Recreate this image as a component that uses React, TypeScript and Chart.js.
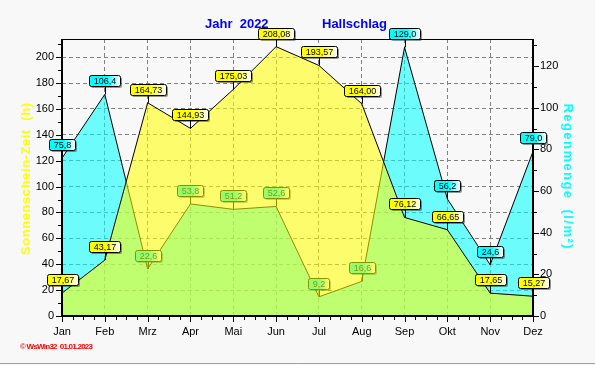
import { useEffect, useRef } from 'react';
import { Chart, registerables } from 'chart.js';

Chart.register(...registerables);

const months = ['Jan', 'Feb', 'Mrz', 'Apr', 'Mai', 'Jun', 'Jul', 'Aug', 'Sep', 'Okt', 'Nov', 'Dez'];
const sunHours = [17.67, 43.17, 164.73, 144.93, 175.03, 208.08, 193.57, 164.0, 76.12, 66.65, 17.65, 15.27];
const rainMm = [75.8, 106.4, 22.6, 53.8, 51.2, 52.6, 9.2, 16.6, 129.0, 56.2, 24.6, 79.0];
const sunTicks = [0, 20, 40, 60, 80, 100, 120, 140, 160, 180, 200];
const rainTicks = [0, 20, 40, 60, 80, 100, 120];
const sunMax = 214;
const rainMax = 133;
const titleYear = 'Jahr  2022';
const titlePlace = 'Hallschlag';
const sunAxisTitle = 'Sonnenschein-Zeit  (h)';
const rainAxisTitle = 'Regenmenge  (l/m²)';
const footerText = '© WsWin32  01.01.2023';

const SANS = 'Arial, "Liberation Sans", sans-serif';
const LABEL_FONT = '9px "Liberation Sans Narrow", "Arial Narrow", Arial, sans-serif';
const SUN_FILL = 'rgba(255,255,0,0.56)';
const RAIN_FILL = 'rgba(0,255,255,0.56)';

const fmt = (v: number, d: number) => v.toFixed(d).replace('.', ',');

function roundRectPath(ctx: CanvasRenderingContext2D, x: number, y: number, w: number, h: number, r: number) {
  ctx.beginPath();
  ctx.moveTo(x + r, y);
  ctx.lineTo(x + w - r, y);
  ctx.quadraticCurveTo(x + w, y, x + w, y + r);
  ctx.lineTo(x + w, y + h - r);
  ctx.quadraticCurveTo(x + w, y + h, x + w - r, y + h);
  ctx.lineTo(x + r, y + h);
  ctx.quadraticCurveTo(x, y + h, x, y + h - r);
  ctx.lineTo(x, y + r);
  ctx.quadraticCurveTo(x, y, x + r, y);
  ctx.closePath();
}

function drawValueLabel(ctx: CanvasRenderingContext2D, px: number, py: number, text: string, color: string) {
  ctx.save();
  ctx.font = LABEL_FONT;
  const tw = ctx.measureText(text).width;
  const w = Math.round(tw + 8);
  const h = 11;
  const bx = Math.round(px - w / 2);
  const by = Math.round(py - 8 - h);
  ctx.strokeStyle = '#000';
  ctx.lineWidth = 1;
  ctx.beginPath();
  ctx.moveTo(Math.round(px) + 0.5, by + h);
  ctx.lineTo(Math.round(px) + 0.5, py);
  ctx.stroke();
  ctx.fillStyle = 'rgba(0,0,0,0.4)';
  roundRectPath(ctx, bx + 2, by + 2, w, h, 2);
  ctx.fill();
  const g = ctx.createLinearGradient(bx, 0, bx + w, 0);
  g.addColorStop(0, color);
  g.addColorStop(0.55, color);
  g.addColorStop(1, '#ffffff');
  ctx.fillStyle = g;
  roundRectPath(ctx, bx + 0.5, by + 0.5, w, h, 2);
  ctx.fill();
  ctx.stroke();
  ctx.fillStyle = '#000';
  ctx.textAlign = 'center';
  ctx.textBaseline = 'middle';
  ctx.fillText(text, bx + w / 2 + 0.5, by + h / 2 + 1);
  ctx.restore();
}

function drawFitted(ctx: CanvasRenderingContext2D, text: string, font: string, cx: number, cy: number, length: number, angle: number, color: string) {
  ctx.save();
  ctx.font = font;
  const w0 = ctx.measureText(text).width;
  const n = Array.from(text).length;
  const sp = (length - w0) / (n - 1);
  (ctx as any).letterSpacing = `${sp}px`;
  ctx.translate(cx, cy);
  ctx.rotate(angle);
  ctx.fillStyle = color;
  ctx.textAlign = 'left';
  ctx.textBaseline = 'middle';
  ctx.fillText(text, -length / 2, 0);
  ctx.restore();
}

const decorPlugin = {
  id: 'decor',
  beforeDraw(chart: any) {
    const { ctx, width, height } = chart;
    ctx.save();
    ctx.fillStyle = '#f8f8f8';
    ctx.fillRect(0, 0, width, height);
    ctx.strokeStyle = '#a0a0a0';
    ctx.lineWidth = 1;
    ctx.beginPath();
    ctx.moveTo(0, height - 1.5);
    ctx.lineTo(width, height - 1.5);
    ctx.stroke();
    ctx.restore();
  },
  afterDatasetDraw(chart: any, args: any) {
    if (args.index !== 1) return;
    const ctx = chart.ctx;
    const sunMeta = chart.getDatasetMeta(0);
    const rainMeta = chart.getDatasetMeta(1);
    rainMeta.data.forEach((pt: any, i: number) => {
      if (pt.y >= sunMeta.data[i].y) {
        drawValueLabel(ctx, pt.x, pt.y, fmt(rainMm[i], 1), '#00ffff');
      }
    });
  },
  afterDatasetsDraw(chart: any) {
    const { ctx, chartArea, scales } = chart;
    const { left, right, top, bottom } = chartArea;
    ctx.save();
    ctx.strokeStyle = '#000';
    ctx.lineWidth = 2;
    ctx.beginPath();
    ctx.moveTo(left, top);
    ctx.lineTo(left, bottom + 1);
    ctx.moveTo(right, top);
    ctx.lineTo(right, bottom + 1);
    ctx.moveTo(left - 1, bottom);
    ctx.lineTo(right + 1, bottom);
    ctx.stroke();
    ctx.lineWidth = 1;
    ctx.beginPath();
    ctx.moveTo(left, top + 0.5);
    ctx.lineTo(right, top + 0.5);
    ctx.stroke();
    ctx.beginPath();
    for (let v = 0; v <= sunMax; v += 10) {
      const y = Math.round(scales.y.getPixelForValue(v)) + 0.5;
      const len = v % 20 === 0 ? 5 : 3;
      ctx.moveTo(left - len - 1, y);
      ctx.lineTo(left, y);
    }
    for (let v = 0; v <= rainMax; v += 10) {
      const y = Math.round(scales.y1.getPixelForValue(v)) + 0.5;
      const len = v % 20 === 0 ? 5 : 3;
      ctx.moveTo(right, y);
      ctx.lineTo(right + len + 1, y);
    }
    for (let i = 0; i < months.length; i++) {
      const x = Math.round(scales.x.getPixelForValue(i)) + 0.5;
      ctx.moveTo(x, bottom);
      ctx.lineTo(x, bottom + 6);
      if (i < months.length - 1) {
        for (let k = 1; k <= 3; k++) {
          const xm = Math.round(scales.x.getPixelForValue(i + k / 4)) + 0.5;
          ctx.moveTo(xm, bottom);
          ctx.lineTo(xm, bottom + 4);
        }
      }
    }
    ctx.stroke();
    ctx.restore();

    const sunMeta = chart.getDatasetMeta(0);
    const rainMeta = chart.getDatasetMeta(1);
    rainMeta.data.forEach((pt: any, i: number) => {
      if (pt.y < sunMeta.data[i].y) {
        drawValueLabel(ctx, pt.x, pt.y, fmt(rainMm[i], 1), '#00ffff');
      }
    });
    sunMeta.data.forEach((pt: any, i: number) => {
      drawValueLabel(ctx, pt.x, pt.y, fmt(sunHours[i], 2), '#ffff00');
    });
  },
  afterDraw(chart: any) {
    const ctx = chart.ctx;
    ctx.save();
    ctx.font = `bold 13px ${SANS}`;
    ctx.fillStyle = '#0000ff';
    ctx.textAlign = 'left';
    ctx.textBaseline = 'middle';
    ctx.fillText(titleYear, 205, 24);
    ctx.fillText(titlePlace, 322, 24);
    ctx.restore();

    drawFitted(ctx, sunAxisTitle, `bold 13px ${SANS}`, 26, 179, 152, -Math.PI / 2, '#ffff00');
    drawFitted(ctx, rainAxisTitle, `bold 13px ${SANS}`, 568, 176, 145, Math.PI / 2, '#00ffff');
    drawFitted(ctx, footerText, `bold 8px ${SANS}`, 20 + 73 / 2, 347, 73, 0, '#ff0000');
  },
};

export default function App() {
  const canvasRef = useRef<HTMLCanvasElement | null>(null);

  useEffect(() => {
    if (!canvasRef.current) return;
    const tickFont = { family: SANS, size: 11 };
    const chart = new Chart(canvasRef.current, {
      type: 'line',
      data: {
        labels: months,
        datasets: [
          {
            label: 'Sonnenschein-Zeit',
            data: sunHours,
            yAxisID: 'y',
            borderColor: '#000',
            borderWidth: 1,
            backgroundColor: SUN_FILL,
            fill: 'origin',
            pointRadius: 0,
            tension: 0,
          },
          {
            label: 'Regenmenge',
            data: rainMm,
            yAxisID: 'y1',
            borderColor: '#000',
            borderWidth: 1,
            backgroundColor: RAIN_FILL,
            fill: 'origin',
            pointRadius: 0,
            tension: 0,
          },
        ],
      },
      options: {
        responsive: false,
        animation: false,
        devicePixelRatio: 1,
        layout: { padding: { top: 39, left: 0, right: 0, bottom: 0 } },
        plugins: {
          legend: { display: false },
          tooltip: { enabled: false },
          title: { display: false },
        },
        scales: {
          x: {
            type: 'category',
            offset: false,
            grid: { color: '#808080', lineWidth: 1, drawTicks: false },
            border: { display: false, dash: [4, 3] },
            ticks: { font: tickFont, color: '#000', padding: 9, maxRotation: 0, autoSkip: false },
            afterFit: (s: any) => { s.height = 49; },
          },
          y: {
            type: 'linear',
            position: 'left',
            min: 0,
            max: sunMax,
            afterBuildTicks: (s: any) => { s.ticks = sunTicks.map((v) => ({ value: v })); },
            grid: { color: '#808080', lineWidth: 1, drawTicks: false },
            border: { display: false, dash: [4, 3] },
            ticks: { font: tickFont, color: '#000', padding: 8 },
            afterFit: (s: any) => { s.width = 62; },
          },
          y1: {
            type: 'linear',
            position: 'right',
            min: 0,
            max: rainMax,
            afterBuildTicks: (s: any) => { s.ticks = rainTicks.map((v) => ({ value: v })); },
            grid: { drawOnChartArea: false, drawTicks: false },
            border: { display: false },
            ticks: { font: tickFont, color: '#000', padding: 7 },
            afterFit: (s: any) => { s.width = 62; },
          },
        },
      },
      plugins: [decorPlugin],
    } as any);
    return () => chart.destroy();
  }, []);

  return (
    <div style={{ position: 'fixed', left: 0, top: 0, width: 595, height: 365 }}>
      <canvas ref={canvasRef} width={595} height={365} style={{ display: 'block' }} />
    </div>
  );
}
